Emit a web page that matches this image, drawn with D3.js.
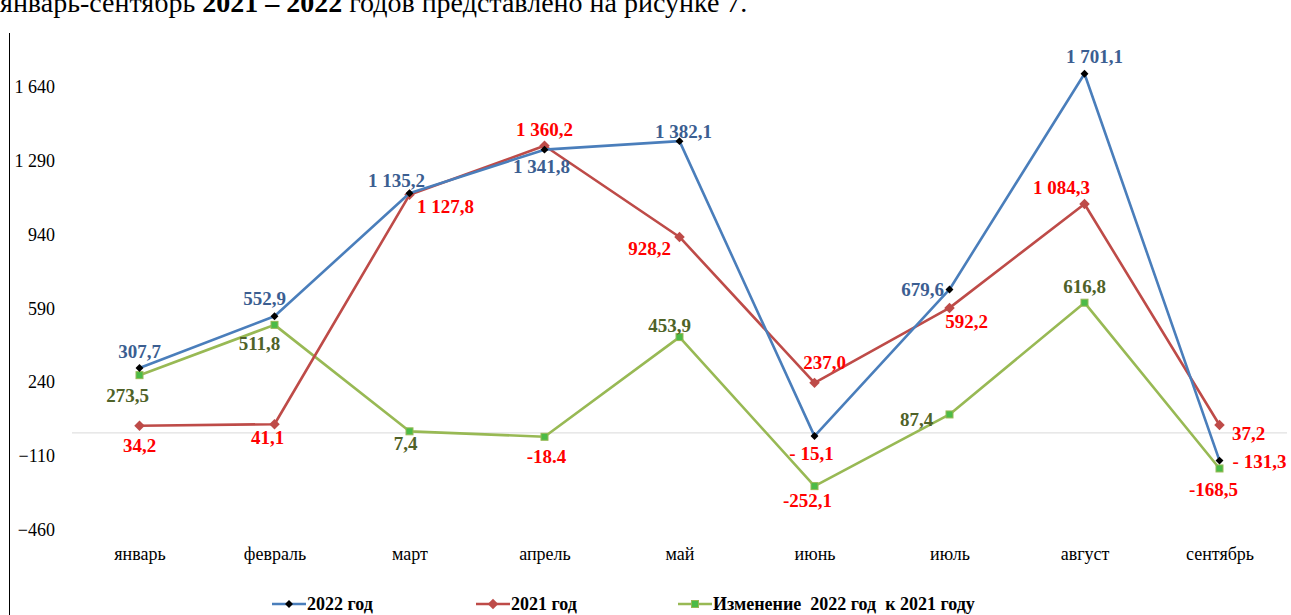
<!DOCTYPE html>
<html>
<head>
<meta charset="utf-8">
<script src="https://cdn.jsdelivr.net/npm/d3@7"></script>
<style>
    html, body { margin: 0; padding: 0; background: #fff; overflow: hidden; }
    svg { display: block; font-family: "Liberation Serif", "Times New Roman", serif; }
</style>
</head>
<body>
<div id="chart"></div>
<script>
// Values
const months = ["январь", "февраль", "март", "апрель", "май", "июнь", "июль", "август", "сентябрь"];
const values2022 = [307.7, 552.9, 1135.2, 1341.8, 1382.1, -15.1, 679.6, 1701.1, -131.3];
const values2021 = [34.2, 41.1, 1127.8, 1360.2, 928.2, 237.0, 592.2, 1084.3, 37.2];
const valuesChange = [273.5, 511.8, 7.4, -18.4, 453.9, -252.1, 87.4, 616.8, -168.5];
const yTicks = [-460, -110, 240, 590, 940, 1290, 1640];
const legendNames = ["2022 год", "2021 год", "Изменение  2022 год  к 2021 году"];

// label offsets (dx, dy) from each point, in px
const offsets2022 = [[0, -17], [-10, -18], [-13, -13], [-3, 17], [4, -10], [-3, 17], [-27, 0], [10, -17], [40, 1]];
const offsets2021 = [[0, 20], [-7, 13], [36, 12], [0, -16], [-30, 11], [10, -21], [17, 13], [-23, -17], [29, 8]];
const offsetsChange = [[-12, 20], [-15, 18], [-4, 12], [2, 20], [-10, -12], [-7, 14], [-33, 5], [0, -16], [-6, 21]];

const width = 1291, height = 615;
const serif = '"Liberation Serif", "Times New Roman", serif';
const svg = d3.select('#chart').append('svg')
    .attr('width', width)
    .attr('height', height);

const xScale = d3.scalePoint()
    .domain(months)
    .range([72, 1287])
    .padding(0.5);

const yScale = d3.scaleLinear()
    .domain([-460, 1640])
    .range([530, 86.7]);

const ru = d3.formatLocale({ decimal: ",", thousands: "\u00a0", grouping: [3], currency: ["", ""] });
const fmt = ru.format(",.1f");
const fmtTick = ru.format(",d");

// (Clipped text of the page above the figure.)
const header = svg.append('text')
    .attr('x', 0)
    .attr('y', 12)
    .style('font-family', serif)
    .attr('font-size', 28)
    .attr('fill', '#000');
header.append('tspan').text("январь-сентябрь ");
header.append('tspan').attr('font-weight', 'bold').text("2021 – 2022");
header.append('tspan').text(" годов представлено на рисунке 7.");

svg.append('line')
    .attr('x1', 9.5).attr('x2', 9.5)
    .attr('y1', 33).attr('y2', height)
    .attr('stroke', '#000')
    .attr('stroke-width', 1);

// y axis labels
const yAxis = svg.append('g')
    .attr('transform', 'translate(60,0)')
    .call(d3.axisLeft(yScale).tickValues(yTicks).tickSize(0).tickPadding(5).tickFormat(fmtTick));
yAxis.select('.domain').remove();
yAxis.selectAll('text')
    .style('font-family', serif)
    .attr('font-size', 18)
    .attr('fill', '#000');

// zero line
svg.append('line')
    .attr('x1', 72).attr('x2', 1287)
    .attr('y1', yScale(0)).attr('y2', yScale(0))
    .attr('stroke', '#d9d9d9')
    .attr('stroke-width', 1);

// x axis labels
const xAxis = svg.append('g')
    .attr('transform', 'translate(0,541)')
    .call(d3.axisBottom(xScale).tickSize(0).tickPadding(6));
xAxis.select('.domain').remove();
xAxis.selectAll('text')
    .style('font-family', serif)
    .attr('font-size', 18)
    .attr('fill', '#000');

const series = [
    { name: legendNames[0], values: values2022, offsets: offsets2022, line: '#4a7ebb', label: '#3b5e91', minus: '- ', marker: 'diamond2022' },
    { name: legendNames[1], values: values2021, offsets: offsets2021, line: '#be4b48', label: '#ff0000', minus: '-', marker: 'diamond2021' },
    { name: legendNames[2], values: valuesChange, offsets: offsetsChange, line: '#98b954', label: '#4f6228', minus: '-', marker: 'square' }
];

function drawMarker(g, kind, x, y) {
    if (kind === 'diamond2022') {
        g.append('path')
            .attr('d', d3.symbol(d3.symbolDiamond2, 40)())
            .attr('transform', `translate(${x},${y})`)
            .attr('fill', '#000');
    } else if (kind === 'diamond2021') {
        g.append('path')
            .attr('d', d3.symbol(d3.symbolDiamond2, 70)())
            .attr('transform', `translate(${x},${y})`)
            .attr('fill', '#be4b48');
    } else {
        g.append('rect')
            .attr('x', x - 3.5).attr('y', y - 3.5)
            .attr('width', 7).attr('height', 7)
            .attr('fill', '#4cbb47')
            .attr('stroke', '#98b954')
            .attr('stroke-width', 1);
    }
}

const line = d3.line()
    .x((d, i) => xScale(months[i]))
    .y(d => yScale(d));

// draw change first, then 2021, then 2022 on top
[series[2], series[1], series[0]].forEach(s => {
    const g = svg.append('g');
    g.append('path')
        .datum(s.values)
        .attr('d', line)
        .attr('fill', 'none')
        .attr('stroke', s.line)
        .attr('stroke-width', 2.6)
        .attr('stroke-linejoin', 'round');
    s.values.forEach((v, i) => drawMarker(g, s.marker, xScale(months[i]), yScale(v)));
});

function labelText(s, v) {
    if (s === series[2] && v === -18.4) return "-18.4";
    return v < 0 ? s.minus + fmt(-v) : fmt(v);
}

series.forEach(s => {
    svg.append('g')
        .selectAll('text')
        .data(s.values)
        .enter()
        .append('text')
        .attr('x', (d, i) => xScale(months[i]) + s.offsets[i][0])
        .attr('y', (d, i) => yScale(d) + s.offsets[i][1])
        .attr('dy', '0.35em')
        .attr('text-anchor', 'middle')
        .style('font-family', serif)
        .attr('font-size', 19)
        .attr('font-weight', 'bold')
        .attr('fill', d => d < 0 ? '#ff0000' : s.label)
        .text(d => labelText(s, d));
});

// legend
const legendX = [272, 476, 678];
series.forEach((s, i) => {
    const g = svg.append('g').attr('transform', `translate(${legendX[i]},604)`);
    g.append('line')
        .attr('x1', 0).attr('x2', 34)
        .attr('stroke', s.line)
        .attr('stroke-width', 2.6);
    drawMarker(g, s.marker, 17, 0);
    g.append('text')
        .attr('x', 35)
        .attr('dy', '0.35em')
        .style('font-family', serif)
        .style('white-space', 'pre')
        .attr('font-size', 18)
        .attr('font-weight', 'bold')
        .attr('fill', '#000')
        .text(s.name);
});
</script>
</body>
</html>
